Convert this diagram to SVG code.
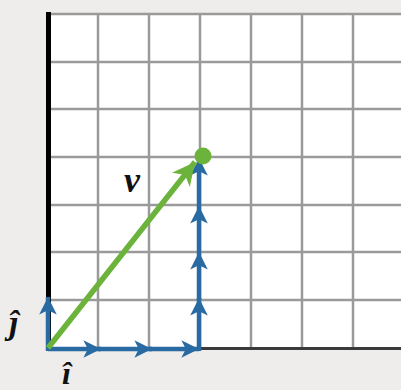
<svg xmlns="http://www.w3.org/2000/svg" width="401" height="390" viewBox="0 0 401 390">
  <defs>
    <style>
      .grid { stroke: #9a9a9a; stroke-width: 2.5; fill: none; }
      .blue { stroke: #2a6aa3; stroke-width: 4.5; fill: none; marker-end: url(#bh); }
      .lbl { font-family: "Liberation Serif", "DejaVu Serif", serif; font-style: italic; font-weight: bold; fill: #111; }
    </style>
    <marker id="bh" markerUnits="userSpaceOnUse" markerWidth="22" markerHeight="22" viewBox="-18 -9 20 18" refX="0" refY="0" orient="auto">
      <path d="M0,0 L-16,-8 L-12,0 L-16,8 Z" fill="#2a6aa3"/>
    </marker>
    <marker id="gh" markerUnits="userSpaceOnUse" markerWidth="26" markerHeight="26" viewBox="-22 -12 24 24" refX="0" refY="0" orient="auto">
      <path d="M0,0 L-21,-10.5 L-15,0 L-21,10.5 Z" fill="#6cb33c"/>
    </marker>
  </defs>
  <rect x="0" y="0" width="401" height="390" fill="#eeedeb"/>
  <rect x="48" y="14" width="353" height="334" fill="#ffffff"/>
  <g id="grid">
    <path class="grid" d="M48,14 H401 M48,62 H401 M48,109 H401 M48,157 H401 M48,205 H401 M48,252 H401 M48,300 H401"/>
    <path class="grid" d="M98,14 V348 M149,14 V348 M200,14 V348 M251,14 V348 M302,14 V348 M353,14 V348"/>
  </g>
  <g id="axes">
    <line x1="48.5" y1="12" x2="48.5" y2="350" stroke="#000" stroke-width="5"/>
    <line x1="48" y1="348.5" x2="401" y2="348.5" stroke="#3a3a3a" stroke-width="3"/>
  </g>
  <g id="connectors">
    <line class="blue" x1="48" y1="349" x2="101" y2="349"/>
    <line class="blue" x1="98" y1="349" x2="152" y2="349"/>
    <line class="blue" x1="149" y1="349" x2="199" y2="349"/>
    <line class="blue" x1="199" y1="351" x2="199" y2="298"/>
    <line class="blue" x1="199" y1="300" x2="199" y2="252"/>
    <line class="blue" x1="199" y1="252" x2="199" y2="206"/>
    <line class="blue" x1="199" y1="206" x2="199" y2="158"/>
    <line class="blue" x1="48" y1="351" x2="48" y2="297"/>
    <line x1="48" y1="348" x2="195" y2="162" stroke="#6cb33c" stroke-width="5.5" marker-end="url(#gh)"/>
  </g>
  <g id="tip">
    <circle cx="203" cy="156" r="8.5" fill="#6cb33c"/>
  </g>
  <g id="labels">
    <text class="lbl" x="124" y="192" font-size="36">v</text>
    <text class="lbl" x="9" y="334" font-size="34">ĵ</text>
    <text class="lbl" x="62" y="384" font-size="32">î</text>
  </g>
</svg>
